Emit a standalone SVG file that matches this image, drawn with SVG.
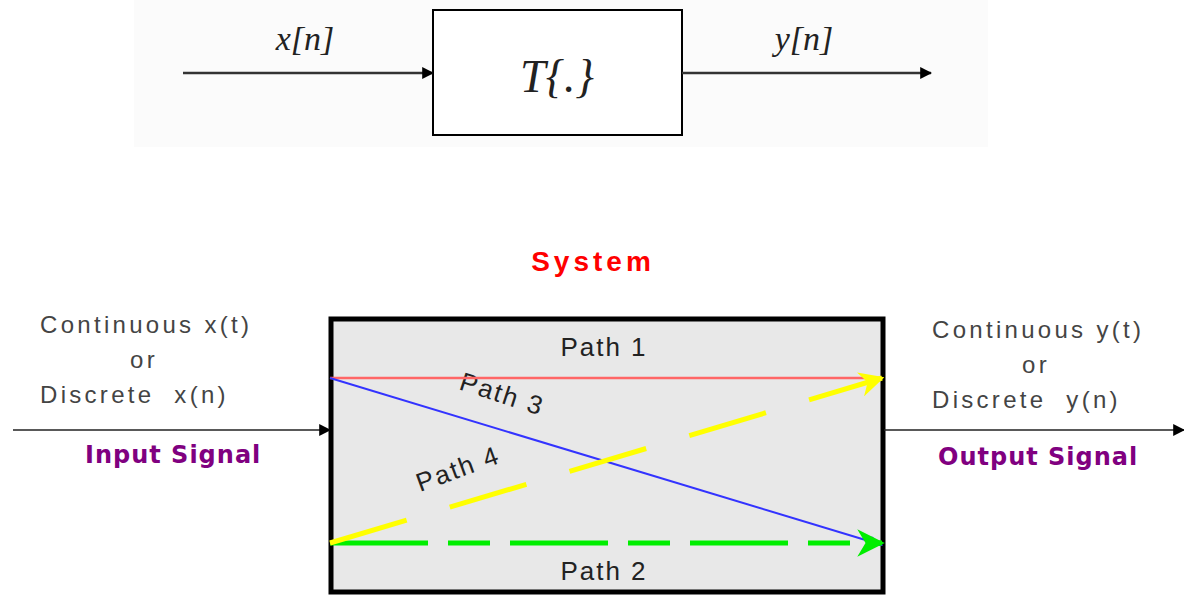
<svg xmlns="http://www.w3.org/2000/svg" width="1184" height="595" viewBox="0 0 1184 595">
<defs>
<style>
.math{font-family:"Liberation Serif","DejaVu Serif",serif;font-style:italic;fill:#222}
.lbl{font-family:"Liberation Sans",Arial,sans-serif;fill:#444;font-size:24px;letter-spacing:3.3px}
.path{font-family:"Liberation Sans",Arial,sans-serif;fill:#222;font-size:26px;letter-spacing:2px}
.sig{font-family:"DejaVu Sans","Liberation Sans",sans-serif;font-weight:bold;fill:#800080;font-size:24px;letter-spacing:1px}
.conn{fill:none}
</style>
<marker id="ab" viewBox="0 0 10 10" refX="9" refY="5" markerWidth="12" markerHeight="12" markerUnits="userSpaceOnUse" orient="auto"><path d="M0,0 L10,5 L0,10 z" fill="#000"/></marker>
<marker id="ay" viewBox="0 0 10 10" refX="9" refY="5" markerWidth="5" markerHeight="5" orient="auto"><path d="M0,0 L10,5 L0,10 L3,5 z" fill="#ffff00"/></marker>
<marker id="ag" viewBox="0 0 10 10" refX="9" refY="5" markerWidth="5.5" markerHeight="5.5" orient="auto"><path d="M0,0 L10,5 L0,10 L3,5 z" fill="#00ee00"/></marker>
<marker id="abl" viewBox="0 0 10 10" refX="9" refY="5" markerWidth="14" markerHeight="14" markerUnits="userSpaceOnUse" orient="auto"><path d="M0,1 L10,5 L0,9 L2,5 z" fill="#3333ff"/></marker>
</defs>
<rect x="0" y="0" width="1184" height="595" fill="#ffffff"/>
<rect x="134" y="0" width="854" height="147" fill="#fbfbfb"/>

<g id="top-system">
<rect x="433" y="10" width="249" height="125" fill="#ffffff" stroke="#000" stroke-width="2"/>
<text class="math" x="557" y="92" font-size="46" text-anchor="middle">T{.}</text>
</g>
<g id="top-labels">
<text class="math" x="305" y="50" font-size="34" text-anchor="middle">x[n]</text>
<text class="math" x="804" y="50" font-size="34" text-anchor="middle">y[n]</text>
</g>

<g id="system-title">
<text x="593" y="271" font-family="'Liberation Sans',Arial,sans-serif" font-weight="bold" font-size="28" fill="#ff0000" letter-spacing="4" text-anchor="middle">System</text>
</g>

<g id="system">
<rect x="331" y="319" width="552" height="273" fill="#e8e8e8" stroke="#000" stroke-width="5"/>
<text class="path" x="604" y="356" text-anchor="middle">Path 1</text>
<text class="path" x="604" y="580" text-anchor="middle">Path 2</text>
<text class="path" transform="translate(458,389) rotate(18)">Path 3</text>
<text class="path" transform="translate(420,492) rotate(-20)">Path 4</text>
</g>

<g id="input">
<text class="lbl" x="40" y="333">Continuous x(t)</text>
<text class="lbl" x="144" y="368" text-anchor="middle">or</text>
<text class="lbl" x="40" y="403" xml:space="preserve">Discrete  x(n)</text>
<text class="sig" x="85" y="463">Input Signal</text>
</g>

<g id="output">
<text class="lbl" x="932" y="338">Continuous y(t)</text>
<text class="lbl" x="1036" y="373" text-anchor="middle">or</text>
<text class="lbl" x="932" y="408" xml:space="preserve">Discrete  y(n)</text>
<text class="sig" x="938" y="465">Output Signal</text>
</g>

<g id="connectors">
<line class="conn" x1="183" y1="73" x2="433" y2="73" stroke="#333" stroke-width="2.5" marker-end="url(#ab)"/>
<line class="conn" x1="682" y1="73" x2="931" y2="73" stroke="#333" stroke-width="2.5" marker-end="url(#ab)"/>
<line class="conn" x1="13" y1="430" x2="330" y2="430" stroke="#222" stroke-width="1.5" marker-end="url(#ab)"/>
<line class="conn" x1="884" y1="430" x2="1184" y2="430" stroke="#222" stroke-width="1.5" marker-end="url(#ab)"/>
<line class="conn" x1="330" y1="378" x2="882" y2="378" stroke="#ff6666" stroke-width="2.5"/>
<line class="conn" x1="330" y1="378" x2="882" y2="545" stroke="#3333ff" stroke-width="2" marker-end="url(#abl)"/>
<line class="conn" x1="330" y1="543" x2="882" y2="543" stroke="#00ee00" stroke-width="5" stroke-dasharray="98 20 42 20" marker-end="url(#ag)"/>
<line class="conn" x1="330" y1="543" x2="882" y2="378" stroke="#ffff00" stroke-width="5" stroke-dasharray="80 45" marker-end="url(#ay)"/>
</g>
</svg>
